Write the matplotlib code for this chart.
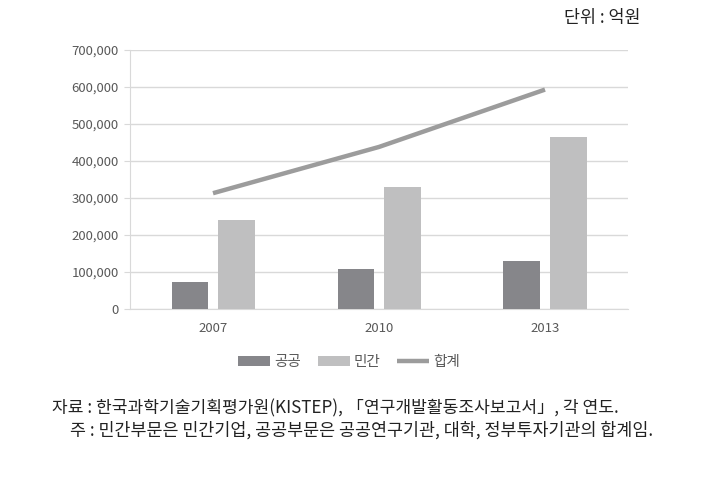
import matplotlib
matplotlib.use("Agg")
import matplotlib.pyplot as plt
import numpy as np

plt.rcParams["font.family"] = ["Noto Sans CJK KR", "DejaVu Sans"]

# data (억원)
years = ["2007", "2010", "2013"]
public = [72500, 109000, 129000]
private = [240000, 329000, 464000]
total = [313000, 438000, 593000]
yticks = [0, 100000, 200000, 300000, 400000, 500000, 600000, 700000]

C_PUB = "#86868a"
C_PRI = "#bfbfc0"
C_TOT = "#9c9c9c"
C_TXT = "#595959"
C_GRID = "#d9d9d9"

fig = plt.figure(figsize=(7.03, 4.83), dpi=100)
ax = fig.add_axes([130 / 703, 1 - 309 / 483, 498 / 703, 259 / 483])

x = np.arange(len(years))
w = 0.22
b1 = ax.bar(x - 0.03 - w / 2, public, width=w, color=C_PUB, label="공공", zorder=3)
b2 = ax.bar(x + 0.03 + w / 2, private, width=w, color=C_PRI, label="민간", zorder=3)
l1, = ax.plot(x, total, color=C_TOT, linewidth=3.2, label="합계", zorder=4,
              solid_capstyle="butt")

ax.set_xlim(-0.5, len(years) - 0.5)
ax.set_ylim(0, 700000)
ax.set_yticks(yticks)
ax.set_yticklabels([f"{v:,}" for v in yticks])
ax.set_xticks(x)
ax.set_xticklabels(years)
ax.grid(axis="y", color=C_GRID, linewidth=1, zorder=0)
ax.set_axisbelow(True)
for s in ["top", "right"]:
    ax.spines[s].set_visible(False)
ax.spines["left"].set_color(C_GRID)
ax.spines["bottom"].set_color(C_GRID)
ax.tick_params(axis="y", length=4, color=C_GRID, labelsize=9.5,
               labelcolor=C_TXT, pad=4)
ax.tick_params(axis="x", length=0, labelsize=9.5, labelcolor=C_TXT, pad=9)

leg = ax.legend([b1, b2, l1], ["공공", "민간", "합계"], loc="center",
                bbox_to_anchor=(0.44, -0.205), ncol=3,
                frameon=False, fontsize=10.5, handlelength=2.2,
                handleheight=0.7, columnspacing=1.1, handletextpad=0.3)
for t in leg.get_texts():
    t.set_color(C_TXT)

fig.text(640 / 703, 1 - 18 / 483, "단위 : 억원", ha="right", va="center",
         fontsize=12.5, color="#222222")
fig.text(52 / 703, 1 - 408 / 483,
         "자료 : 한국과학기술기획평가원(KISTEP), 「연구개발활동조사보고서」, 각 연도.",
         ha="left", va="center", fontsize=12.3, color="#222222")
fig.text(70 / 703, 1 - 430 / 483,
         "주 : 민간부문은 민간기업, 공공부문은 공공연구기관, 대학, 정부투자기관의 합계임.",
         ha="left", va="center", fontsize=12.5, color="#222222")

fig.savefig("out.png", dpi=100)
